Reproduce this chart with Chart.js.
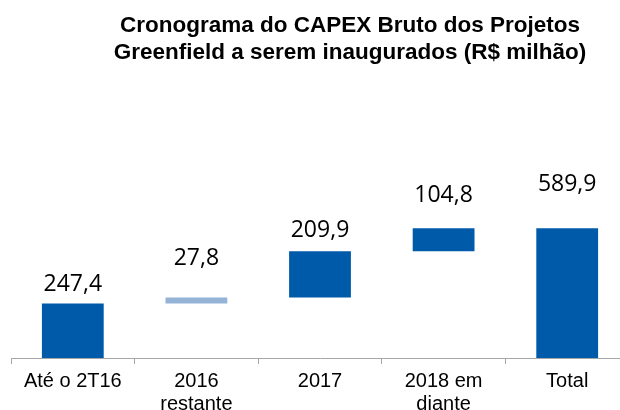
<!DOCTYPE html>
<html>
<head>
<meta charset="utf-8">
<script src="https://cdn.jsdelivr.net/npm/chart.js@4"></script>
<style>
  html, body { margin: 0; padding: 0; background: #fff; overflow: hidden; width: 620px; height: 410px; }
  canvas { display: block; }
</style>
</head>
<body>
<canvas id="capexChart" width="640" height="430"></canvas>
<script>
// dados do gráfico
const categories = [["Até o 2T16"], ["2016", "restante"], ["2017"], ["2018 em", "diante"], ["Total"]];
const steps = [247.4, 27.8, 209.9, 104.8];
const total = 589.9;
const valueLabels = ["247,4", "27,8", "209,9", "104,8", "589,9"];
// altura (em R$ milhão) onde cada rótulo aparece
const labelAt = [334, 453, 581, 741, 787];

const titleLines = ["Cronograma do CAPEX Bruto dos Projetos", "Greenfield a serem inaugurados (R$ milhão)"];

// barras flutuantes (cascata)
const floating = [];
let acc = 0;
steps.forEach(v => {
    floating.push([acc, acc + v]);
    acc += v;
});
floating.push([0, total]);

const colors = ["#005AAA", "#95B3D7", "#005AAA", "#005AAA", "#005AAA"];

const labelsPlugin = {
    id: "labelsPlugin",
    afterDatasetsDraw(chart) {
        const { ctx, scales } = chart;
        const meta = chart.getDatasetMeta(0);
        ctx.save();
        ctx.fillStyle = "#000";
        ctx.textAlign = "center";
        ctx.textBaseline = "middle";
        ctx.font = "23px 'Open Sans'";
        meta.data.forEach((bar, i) => {
            ctx.fillText(valueLabels[i], bar.x, scales.y.getPixelForValue(labelAt[i]));
        });

        ctx.font = "bold 22.5px 'Liberation Sans', Arial";
        ctx.fillText(titleLines[0], 350, 26);
        ctx.fillText(titleLines[1], 350, 53);
        ctx.restore();
    }
};

new Chart(document.getElementById("capexChart"), {
    type: "bar",
    data: {
        labels: categories,
        datasets: [{
            data: floating,
            backgroundColor: colors,
            borderWidth: 0,
            categoryPercentage: 1,
            barPercentage: 0.5
        }]
    },
    options: {
        responsive: false,
        animation: false,
        layout: { padding: { left: 11, right: 11, top: 182, bottom: 8 } },
        plugins: {
            legend: { display: false },
            tooltip: { enabled: false }
        },
        scales: {
            x: {
                grid: { drawOnChartArea: false, drawTicks: true, tickLength: 6, color: "#A6A6A6" },
                border: { color: "#A6A6A6", width: 1 },
                ticks: {
                    color: "#000",
                    padding: 6,
                    font: { family: "'Liberation Sans', Arial", size: 20, lineHeight: 1.15 },
                    maxRotation: 0
                }
            },
            y: { display: false, min: 0, max: 800 }
        }
    },
    plugins: [labelsPlugin]
});
</script>
</body>
</html>
